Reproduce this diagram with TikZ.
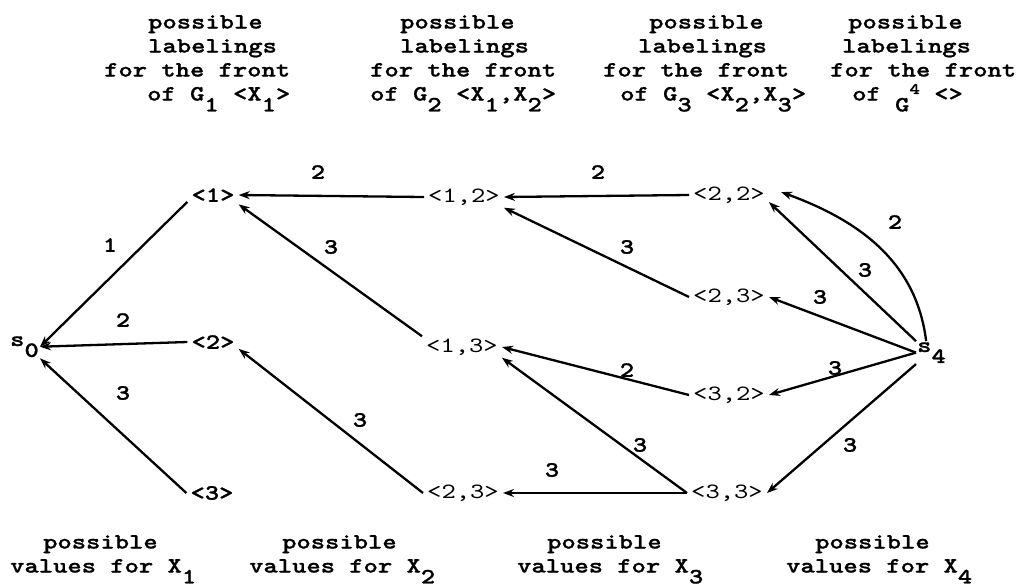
\documentclass[tikz,border=0pt]{standalone}
\usepackage{fontspec}
\usepackage{tikz}
\usetikzlibrary{arrows.meta}

\newfontfamily\typew{lmmono10-regular.otf}[FakeStretch=1.25]
\newfontfamily\typewb{lmmonolt10-bold.otf}[FakeStretch=1.25, FakeBold=1]
\newcommand{\dn}[1]{\raisebox{-0.5em}{#1}}
\newcommand{\ind}[1]{\hspace*{#1pt}}

\begin{document}
\begin{tikzpicture}[x=1pt, y=-1pt,
    state/.style={inner sep=4pt, font=\fontsize{21.8}{24}\typew},
    bstate/.style={state, font=\fontsize{21.8}{24}\typewb},
    term/.style={inner sep=1pt, anchor=base west, font=\fontsize{21.8}{24}\typewb},
    lbl/.style={inner sep=0pt, font=\fontsize{21.8}{24}\typewb},
    caption/.style={anchor=north west, align=left, inner sep=0pt, font=\fontsize{21.8}{24}\typewb},
    arr/.style={->, >={Stealth[length=11pt, width=8pt]}, line width=2.3pt},
]
\useasboundingbox (0,0) rectangle (1022,587);

% Column headings
\node[caption] (h1) at (104,15) {\ind{44}possible\\\ind{44}labelings\\for the front\\\ind{43}of G\dn{1} <X\dn{1}>};
\node[caption] (h2) at (370,15) {\ind{30}possible\\\ind{30}labelings\\for the front\\of G\dn{2} <X\dn{1},X\dn{2}>};
\node[caption] (h3) at (603,15) {\ind{46}possible\\\ind{35}labelings\\for the front\\\ind{17}of G\dn{3} <X\dn{2},X\dn{3}>};
\node[caption] (h4) at (830,15) {\ind{18}possible\\\ind{12}labelings\\for the front\\\ind{22}of \dn{G}\raisebox{0.3em}{\fontsize{16}{16}\selectfont 4} <>};

% Start and end
\node[term] (s0) at (9,346) {s\dn{0}};
\node[term] (s4) at (916,352) {s\dn{4}};

% Front of G1
\node[bstate] (l1) at (213,195) {<1>};
\node[bstate] (l2) at (213,342) {<2>};
\node[bstate] (l3) at (212,493) {<3>};

% Front of G2
\node[state] (m12) at (464,197) {<1,2>};
\node[state] (m13) at (462,347) {<1,3>};
\node[state] (m23) at (463,493) {<2,3>};

% Front of G3
\node[state] (r22) at (729,195) {<2,2>};
\node[state] (r23) at (729,297) {<2,3>};
\node[state] (r32) at (729,395) {<3,2>};
\node[state] (r33) at (727,493) {<3,3>};

% Edges into s0
\draw[arr] (l1.195) -- (s0.east);
\draw[arr] (l2.west) -- (s0.east);
\draw[arr] (l3.west) -- (s0.south east);

% Edges into the front of G1
\draw[arr] (m12.west) -- (l1.east);
\draw[arr] (m13.165) -- (l1.-20);
\draw[arr] (m23.west) -- (l2.-15);

% Edges into the front of G2
\draw[arr] (r22.west) -- (m12.east);
\draw[arr] (r23.west) -- (m12.-15);
\draw[arr] (r32.west) -- (m13.east);
\draw[arr] (r33.west) -- (m13.-15);
\draw[arr] (r33.west) -- (m23.east);

% Edges out of s4
\draw[arr] (s4.115) to[out=97, in=-20] ([xshift=12pt,yshift=3pt]r22.east);
\draw[arr] (s4.north west) -- (r22.-10);
\draw[arr] (s4.west) -- (r23.east);
\draw[arr] (s4.west) -- (r32.east);
\draw[arr] (s4.south west) -- (r33.east);

% Edge labels
\node[lbl] at (110,245) {1};
\node[lbl] at (123,320) {2};
\node[lbl] at (123,393) {3};
\node[lbl] at (318,172) {2};
\node[lbl] at (331,247) {3};
\node[lbl] at (360,420) {3};
\node[lbl] at (598,172) {2};
\node[lbl] at (627,247) {3};
\node[lbl] at (627,370) {2};
\node[lbl] at (640,445) {3};
\node[lbl] at (552,470) {3};
\node[lbl] at (865,270) {3};
\node[lbl] at (895,222) {2};
\node[lbl] at (820,297) {3};
\node[lbl] at (835,368) {3};
\node[lbl] at (850,445) {3};

% Value rows
\node[caption] (v1) at (10,535) {\ind{33}possible\\values for X\dn{1}};
\node[caption] (v2) at (249,535) {\ind{33}possible\\values for X\dn{2}};
\node[caption] (v3) at (517,535) {\ind{30}possible\\values for X\dn{3}};
\node[caption] (v4) at (786,535) {\ind{29}possible\\values for X\dn{4}};
\end{tikzpicture}
\end{document}
